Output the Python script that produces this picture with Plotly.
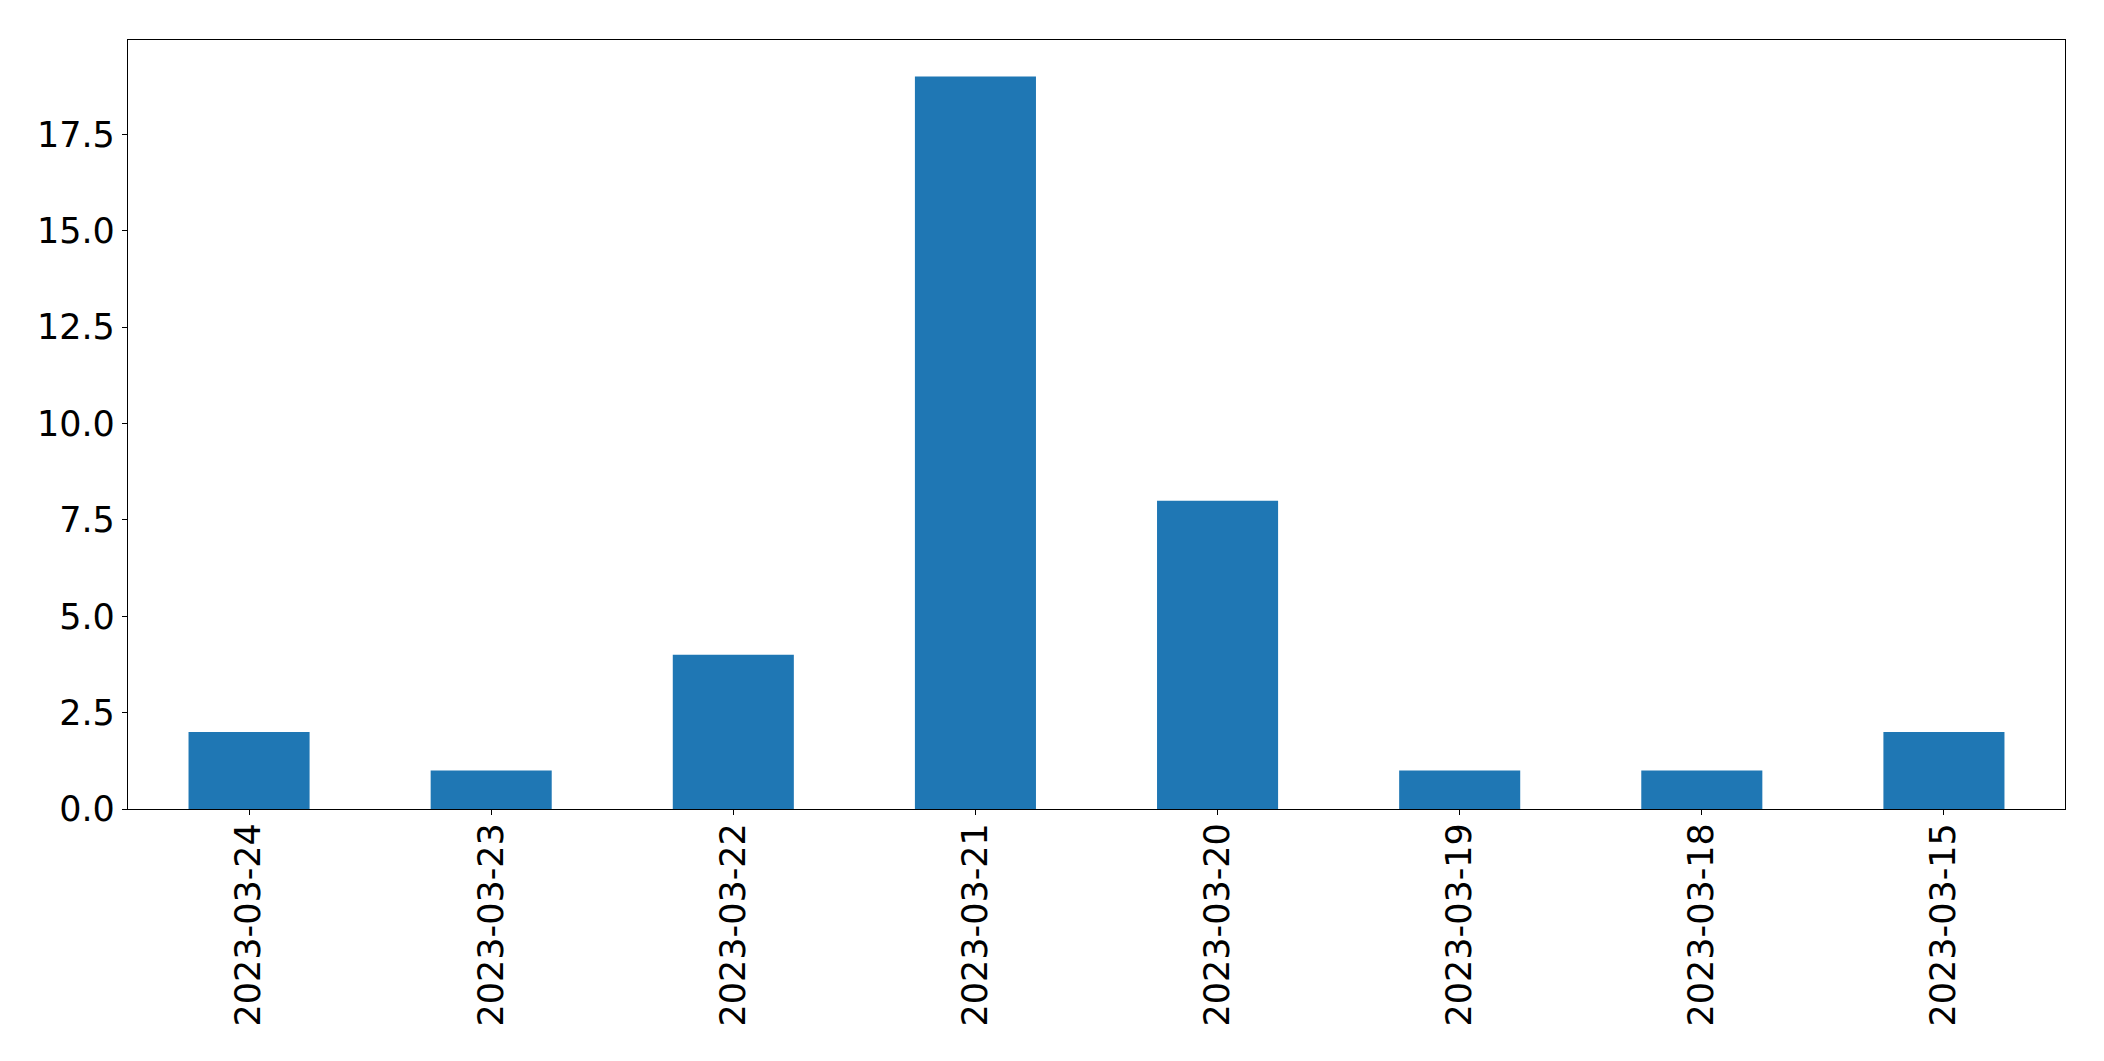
import plotly.graph_objects as go

dates = ["2023-03-24", "2023-03-23", "2023-03-22", "2023-03-21",
         "2023-03-20", "2023-03-19", "2023-03-18", "2023-03-15"]
counts = [2, 1, 4, 19, 8, 1, 1, 2]
y_ticks = [0, 2.5, 5, 7.5, 10, 12.5, 15, 17.5]
y_tick_labels = ["0.0", "2.5", "5.0", "7.5", "10.0", "12.5", "15.0", "17.5"]

fig = go.Figure(go.Bar(x=dates, y=counts, width=0.5, marker_color="#1f77b4",
                       marker_line_width=0))

axis_common = dict(showline=True, linecolor="black", linewidth=1.3, mirror=True,
                   ticks="outside", ticklen=5, tickwidth=1.3, tickcolor="black",
                   showgrid=False, zeroline=False,
                   tickfont=dict(family="DejaVu Sans", size=35, color="black"))

fig.update_xaxes(type="category", range=[-0.5, 7.5], tickangle=-90,
                 ticklabelstandoff=-6, **axis_common)
fig.update_yaxes(range=[0, 19.95], tickvals=y_ticks, ticktext=y_tick_labels, **axis_common)

fig.update_layout(width=2104, height=1061, plot_bgcolor="white", paper_bgcolor="white",
                  margin=dict(l=127.5, r=39, t=39.5, b=252, autoexpand=False),
                  showlegend=False)

fig.write_html("out.html", config={"displayModeBar": False},
               post_script="document.body.style.margin='0';document.body.style.overflow='hidden';")
